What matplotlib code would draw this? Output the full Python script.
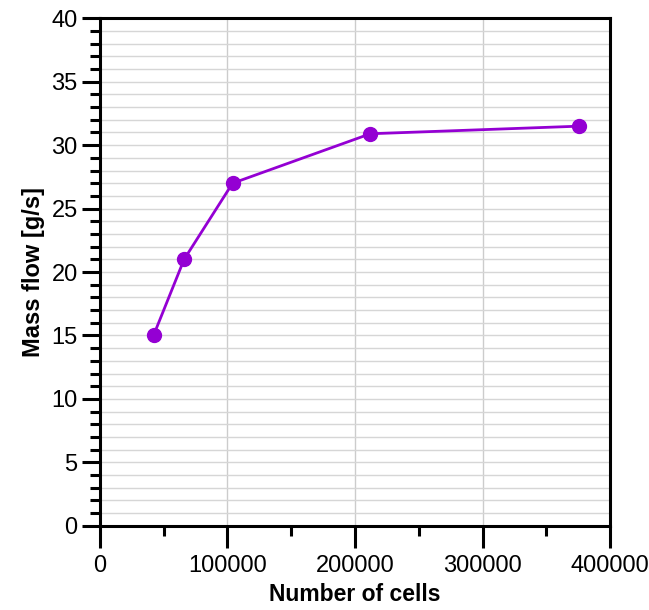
import matplotlib
matplotlib.use('Agg')
import matplotlib.pyplot as plt
from matplotlib.ticker import MultipleLocator

plt.rcParams['font.family'] = ['Liberation Sans', 'DejaVu Sans']

# grid study: number of cells vs mass flow
cells = [42000, 66000, 104000, 212000, 376000]
mass_flow = [15.0, 21.0, 27.0, 30.9, 31.5]

fig = plt.figure(figsize=(6.49, 6.10), dpi=100)
ax = fig.add_axes([0.154, 0.138, 0.786, 0.832])

ax.plot(cells, mass_flow, color='#9400d3', lw=2, marker='o', ms=10, zorder=3)

ax.set_xlim(0, 400000)
ax.set_ylim(0, 40)
ax.xaxis.set_major_locator(MultipleLocator(100000))
ax.xaxis.set_minor_locator(MultipleLocator(50000))
ax.yaxis.set_major_locator(MultipleLocator(5))
ax.yaxis.set_minor_locator(MultipleLocator(1))

ax.grid(True, axis='x', which='major', color='#cccccc', lw=1)
ax.grid(True, axis='y', which='both', color='#d6d6d6', lw=1)
ax.set_axisbelow(True)

for s in ax.spines.values():
    s.set_linewidth(2.2)

ax.tick_params(which='major', length=13, width=2.2, labelsize=17, direction='out')
ax.tick_params(which='minor', length=7, width=2.2, direction='out')
ax.tick_params(axis='x', which='major', length=16, pad=5)
ax.tick_params(axis='y', which='major', pad=3)

ax.set_xlabel('Number of cells', fontsize=16.5, fontweight='bold', labelpad=4)
ax.set_ylabel('Mass flow [g/s]', fontsize=17, fontweight='bold', labelpad=5)

fig.savefig('out.png', dpi=100)
